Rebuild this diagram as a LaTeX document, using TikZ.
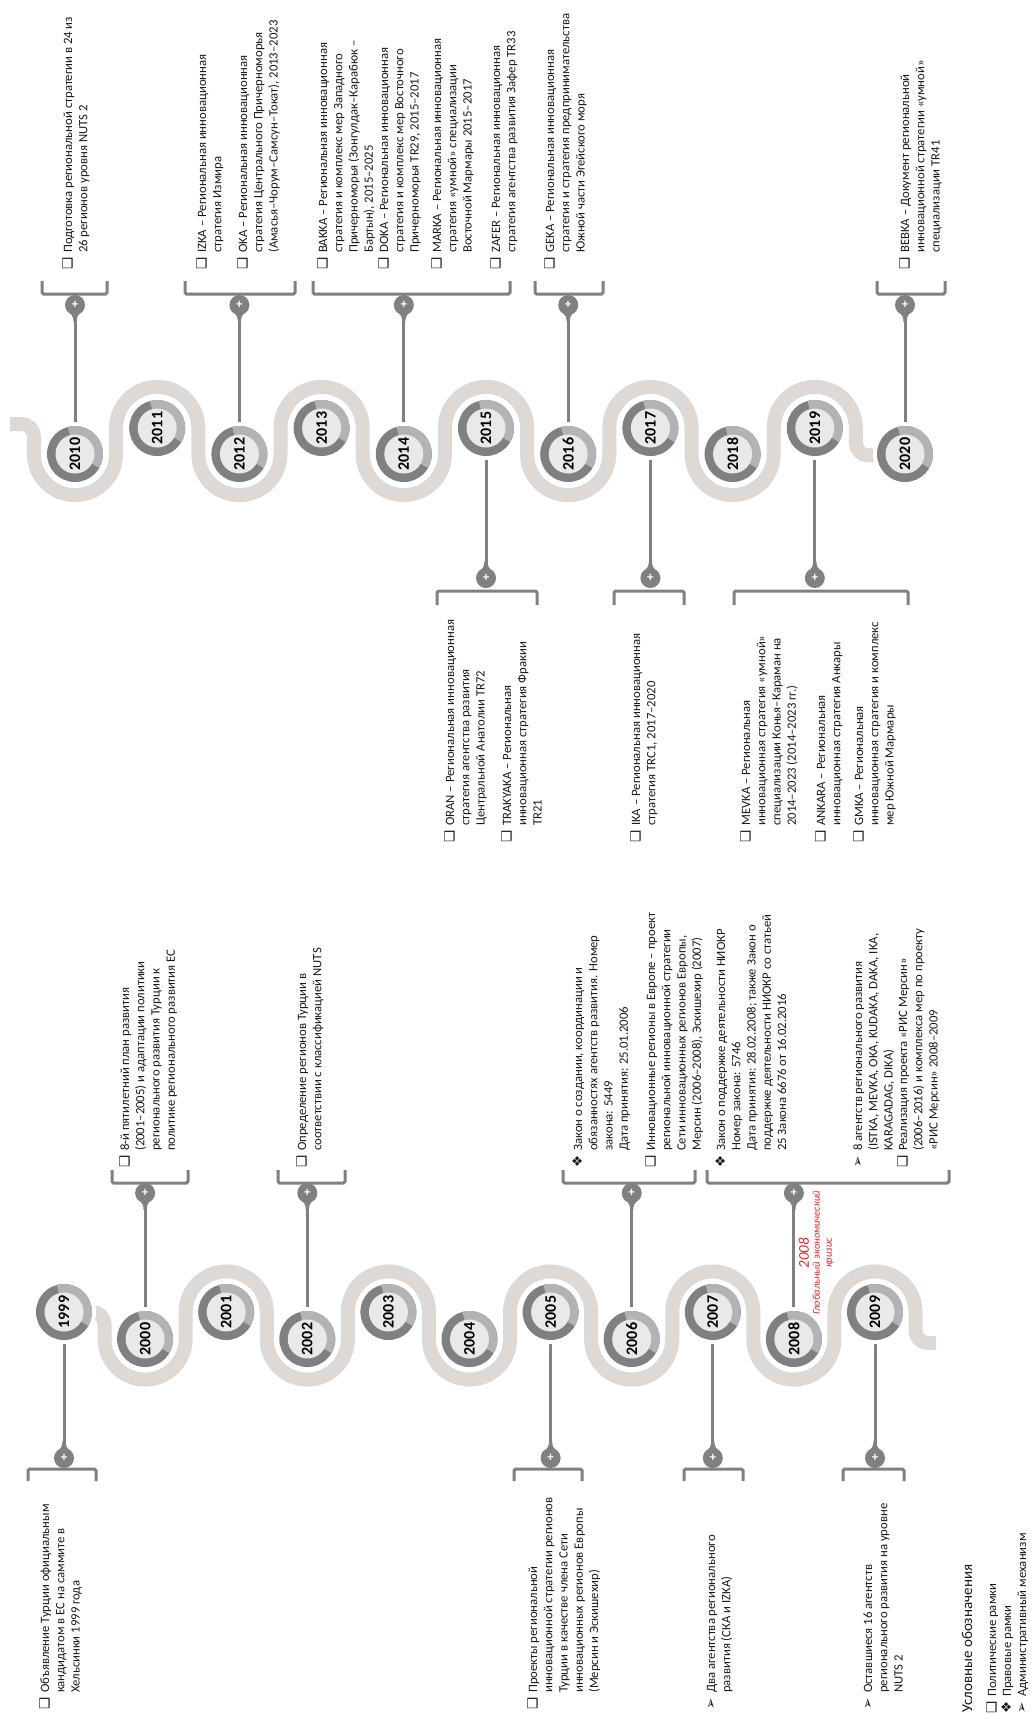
\documentclass[tikz,border=0pt]{standalone}
\usepackage{fontspec}
\setmainfont{Carlito}
\newfontfamily\dvf{DejaVu Sans}
\usetikzlibrary{calc}
\definecolor{bandc}{HTML}{DDD9D7}
\definecolor{dk}{HTML}{808080}
\definecolor{lt}{HTML}{B3B3B3}
\definecolor{inn}{HTML}{E8E9E8}
\definecolor{crisis}{HTML}{E8262D}
\newlength\bulw \setlength\bulw{17pt}
\newcommand\bl[1]{\makebox[\bulw][l]{\dvf\fontsize{13.5}{13.5}\selectfont #1}}
\newcommand\IT[2]{\begin{tabular}[t]{@{}l@{}l@{}}\bl{#1}&#2\end{tabular}}
\def\SQ{❑}\def\DI{❖}\def\AR{➢}
\tikzset{
 txt/.style={rotate=90, anchor=base west, inner sep=0pt, text=black!90, font=\fontsize{12.7}{15.3}\selectfont},
 stem/.style={draw=dk, line width=3pt},
 brk/.style={draw=dk, line width=3pt, rounded corners=1.5pt},
 mk/.style={circle, fill=dk, minimum size=20pt, inner sep=0pt, text=white, font=\bfseries\fontsize{13}{13}\selectfont},
 yr/.style={rotate=90, font=\bfseries\fontsize{16}{16}\selectfont, inner sep=0pt},
 bandline/.style={draw=bandc, line width=14pt},
}
\newcommand\yearc[3]{%
 \fill[white] (#1,#2) circle (32);
 \fill[dk] (#1,#2) circle (28);
 \fill[lt] (#1,#2) -- ++(-105:28) arc(-105:30:28) -- cycle;
 \fill[inn] (#1,#2) circle (19.5);
 \node[yr] (y#3) at (#1,#2) {#3};
}
\newcommand\marker[4]{%
 \fill[dk] ({#2-8.5},{#3+(#4)*5}) .. controls ({#2-3},{#3+(#4)*9}) and ({#2-1.5},{#3+(#4)*12}) .. ({#2-1.5},{#3+(#4)*17}) -- ({#2+1.5},{#3+(#4)*17}) .. controls ({#2+1.5},{#3+(#4)*12}) and ({#2+3},{#3+(#4)*9}) .. ({#2+8.5},{#3+(#4)*5}) -- cycle;
 \node[mk] (#1) at (#2,#3) {+};
}
\begin{document}
\begin{tikzpicture}[x=1pt,y=-1pt]
\fill[white] (0,0) rectangle (1032,1719);
\useasboundingbox (0,0) rectangle (1032,1719);

% ---------- timeline 1 band ----------
\draw[bandline] (86,1312) -- (92.15,1312) arc(270:360:12.4) -- (104.55,1339) arc(180:0:40.55)
 -- (185.65,1312) arc(180:360:40.55) -- (266.75,1339) arc(180:0:40.55)
 -- (347.85,1312) arc(180:360:40.55) -- (428.95,1339) arc(180:0:40.55)
 -- (510.05,1312) arc(180:360:40.55) -- (591.15,1339) arc(180:0:40.55)
 -- (672.25,1312) arc(180:360:40.55) -- (753.35,1339) arc(180:0:40.55)
 -- (834.45,1312) arc(180:360:40.55) -- (915.55,1330.6) arc(180:90:12.4) -- (936,1343);

% ---------- timeline 2 band ----------
\draw[bandline] (10,424) -- (21.5,424) arc(270:360:12.4) -- (33.9,454) arc(180:0:41.1)
 -- (116.1,428) arc(180:360:41.1) -- (198.3,454) arc(180:0:41.1)
 -- (280.5,428) arc(180:360:41.1) -- (362.7,454) arc(180:0:41.1)
 -- (444.9,428) arc(180:360:41.1) -- (527.1,454) arc(180:0:41.1)
 -- (609.3,428) arc(180:360:41.1) -- (691.5,454) arc(180:0:41.1)
 -- (773.7,428) arc(180:360:41.1) -- (855.9,443) arc(180:90:12.4) -- (895,455.4);

% ---------- coordinates ----------
\coordinate (c1999) at (64,1312);
\coordinate (c2000) at (145.1,1339);
\coordinate (c2002) at (307.3,1339);
\coordinate (c2005) at (550.6,1312);
\coordinate (c2006) at (631.7,1339);
\coordinate (c2007) at (712.8,1312);
\coordinate (c2008) at (793.9,1339);
\coordinate (c2009) at (875,1312);
\coordinate (p1999) at (64,1458);
\coordinate (p2000) at (145.1,1193);
\coordinate (p2002) at (307.3,1193);
\coordinate (p2005) at (550.6,1458);
\coordinate (p2006) at (631.7,1193);
\coordinate (p2007) at (712.8,1458);
\coordinate (p2008) at (793.9,1193);
\coordinate (p2009) at (875,1458);

\coordinate (c2010) at (75,454);
\coordinate (c2012) at (239.4,454);
\coordinate (c2014) at (403.8,454);
\coordinate (c2015) at (486,428);
\coordinate (c2016) at (568.2,454);
\coordinate (c2017) at (650.4,428);
\coordinate (c2019) at (814.8,428);
\coordinate (c2020) at (905,454);
\coordinate (p2010) at (75,305);
\coordinate (p2012) at (239.4,305);
\coordinate (p2014) at (403.8,305);
\coordinate (p2016) at (568.2,305);
\coordinate (p2020) at (905,305);
\coordinate (p2015) at (486,578);
\coordinate (p2017) at (650.4,578);
\coordinate (p2019) at (814.8,578);

% ---------- stems ----------
\foreach \k in {1999,2000,2002,2005,2006,2007,2008,2009,2010,2012,2014,2015,2016,2017,2019,2020}
  \draw[stem] (c\k) -- (p\k);

% ---------- year circles ----------
\yearc{64}{1312}{1999}
\yearc{145.1}{1339}{2000}
\yearc{226.2}{1312}{2001}
\yearc{307.3}{1339}{2002}
\yearc{388.4}{1312}{2003}
\yearc{469.5}{1339}{2004}
\yearc{550.6}{1312}{2005}
\yearc{631.7}{1339}{2006}
\yearc{712.8}{1312}{2007}
\yearc{793.9}{1339}{2008}
\yearc{875}{1312}{2009}

\yearc{75}{454}{2010}
\yearc{157.2}{428}{2011}
\yearc{239.4}{454}{2012}
\yearc{321.6}{428}{2013}
\yearc{403.8}{454}{2014}
\yearc{486}{428}{2015}
\yearc{568.2}{454}{2016}
\yearc{650.4}{428}{2017}
\yearc{732.6}{454}{2018}
\yearc{814.8}{428}{2019}
\yearc{905}{454}{2020}

% ---------- brackets ----------
\draw[brk] (112,1170) -- (112,1183) -- (188,1183) -- (188,1170);
\draw[brk] (278,1170) -- (278,1183) -- (345,1183) -- (345,1170);
\draw[brk] (563,1170) -- (563,1183) -- (695,1183) -- (695,1170);
\draw[brk] (707,1170) -- (707,1183) -- (949,1183) -- (949,1170);
\draw[brk] (28,1481) -- (28,1469) -- (96,1469) -- (96,1481);
\draw[brk] (514,1481) -- (514,1469) -- (582,1469) -- (582,1481);
\draw[brk] (684,1481) -- (684,1469) -- (743,1469) -- (743,1481);
\draw[brk] (843,1481) -- (843,1469) -- (904,1469) -- (904,1481);

\draw[brk] (42,281) -- (42,294) -- (107,294) -- (107,281);
\draw[brk] (185,281) -- (185,294) -- (295,294) -- (295,281);
\draw[brk] (313,281) -- (313,294) -- (510,294) -- (510,281);
\draw[brk] (535,281) -- (535,294) -- (603,294) -- (603,281);
\draw[brk] (877,281) -- (877,294) -- (945,294) -- (945,281);
\draw[brk] (437,605) -- (437,591) -- (537,591) -- (537,605);
\draw[brk] (614,605) -- (614,591) -- (684,591) -- (684,605);
\draw[brk] (734,605) -- (734,591) -- (908,591) -- (908,605);

% ---------- markers ----------
\marker{m2000}{145.1}{1193}{1}
\marker{m2002}{307.3}{1193}{1}
\marker{m2006}{631.7}{1193}{1}
\marker{m2008}{793.9}{1193}{1}
\marker{m1999}{64}{1458}{-1}
\marker{m2005}{550.6}{1458}{-1}
\marker{m2007}{712.8}{1458}{-1}
\marker{m2009}{875}{1458}{-1}
\marker{m2010}{75}{305}{1}
\marker{m2012}{239.4}{305}{1}
\marker{m2014}{403.8}{305}{1}
\marker{m2016}{568.2}{305}{1}
\marker{m2020}{905}{305}{1}
\marker{m2015}{486}{578}{-1}
\marker{m2017}{650.4}{578}{-1}
\marker{m2019}{814.8}{578}{-1}

% ---------- crisis label ----------
\node[rotate=90, text=crisis, align=center, inner sep=0pt] (crisis) at (816,1253)
 {\fontsize{15}{15}\selectfont\itshape 2008\\[-1pt]\fontsize{10.5}{11}\selectfont\itshape Глобальный экономический\\\fontsize{10.5}{11}\selectfont\itshape кризис};

% ---------- texts timeline 1, bottom ----------
\node[txt] (t1999) at (49,1710) {\IT{\SQ}{Объявление Турции официальным\\&кандидатом в ЕС на саммите в\\&Хельсинки 1999 года}};
\node[txt] (t2005) at (537,1710) {\IT{\SQ}{Проекты региональной\\&инновационной стратегии регионов\\&Турции в качестве члена Сети\\&инновационных регионов Европы\\&(Мерсин и Эскишехир)}};
\node[txt] (t2007) at (715,1710) {\IT{\AR}{Два агентства регионального\\&развития (СКА и IZKA)}};
\node[txt] (t2009) at (872,1710) {\IT{\AR}{Оставшиеся 16 агентств\\&регионального развития на уровне\\&NUTS 2}};

% ---------- legend ----------
\node[txt, font=\fontsize{15}{18}\selectfont] (leg) at (972,1713) {Условные обозначения};
\node[txt] (leg1) at (996,1714) {\IT{\SQ}{Политические рамки}};
\node[txt] (leg2) at (1011,1714) {\IT{\DI}{Правовые рамки}};
\node[txt] (leg3) at (1026,1714) {\IT{\AR}{Административный механизм}};

% ---------- texts timeline 1, top ----------
\node[txt] (t2000) at (129,1168) {\IT{\SQ}{8-й пятилетний план развития\\&(2001–2005) и адаптации политики\\&регионального развития Турции к\\&политике регионального развития ЕС}};
\node[txt] (t2002) at (306,1168) {\IT{\SQ}{Определение регионов Турции в\\&соответствии с классификацией NUTS}};
\node[txt] (t2006a) at (582,1168) {\IT{\DI}{Закон о создании, координации и\\&обязанностях агентств развития. Номер\\&закона: 5449\\&Дата принятия: 25.01.2006}};
\node[txt] (t2006b) at (655,1168) {\IT{\SQ}{Инновационные регионы в Европе – проект\\&региональной инновационной стратегии\\&Сети инновационных регионов Европы,\\&Мерсин (2006–2008), Эскишехир (2007)}};
\node[txt] (t2008a) at (725,1168) {\IT{\DI}{Закон о поддержке деятельности НИОКР\\&Номер закона: 5746\\&Дата принятия: 28.02.2008; также Закон о\\&поддержке деятельности НИОКР со статьей\\&25 Закона 6676 от 16.02.2016}};
\node[txt] (t2008b) at (862,1168) {\IT{\AR}{8 агентств регионального развития\\&(ISTKA, MEVKA, OKA, KUDAKA, DAKA, IKA,\\&KARAGADAG, DIKA)}};
\node[txt] (t2008c) at (907,1168) {\IT{\SQ}{Реализация проекта «РИС Мерсин»\\&(2006–2016) и комплекса мер по проекту\\&«РИС Мерсин» 2008–2009}};

% ---------- texts timeline 2, top ----------
\node[txt] (t2010) at (72,270) {\IT{\SQ}{Подготовка региональной стратегии в 24 из\\&26 регионов уровня NUTS 2}};
\node[txt] (tizka) at (206,270) {\IT{\SQ}{IZKA – Региональная инновационная\\&стратегия Измира}};
\node[txt] (toka) at (247,270) {\IT{\SQ}{OKA – Региональная инновационная\\&стратегия Центрального Причерноморья\\&(Амасья–Чорум–Самсун–Токат), 2013–2023}};
\node[txt] (tbakka) at (327,270) {\IT{\SQ}{BAKKA – Региональная инновационная\\&стратегия и комплекс мер Западного\\&Причерноморья (Зонгулдак–Карабюк –\\&Бартын), 2015–2025}};
\node[txt] (tdoka) at (388,270) {\IT{\SQ}{DOKA – Региональная инновационная\\&стратегия и комплекс мер Восточного\\&Причерноморья TR29, 2015–2017}};
\node[txt] (tmarka) at (441,270) {\IT{\SQ}{MARKA – Региональная инновационная\\&стратегия «умной» специализации\\&Восточной Мармары 2015–2017}};
\node[txt] (tzafer) at (500,270) {\IT{\SQ}{ZAFER – Региональная инновационная\\&стратегия агентства развития Зафер TR33}};
\node[txt] (tgeka) at (554,270) {\IT{\SQ}{GEKA – Региональная инновационная\\&стратегия и стратегия предпринимательства\\&Южной части Эгейского моря}};
\node[txt] (tbebka) at (909,270) {\IT{\SQ}{BEBKA – Документ региональной\\&инновационной стратегии «умной»\\&специализации TR41}};

% ---------- texts timeline 2, bottom ----------
\node[txt] (toran) at (454,843) {\IT{\SQ}{ORAN – Региональная инновационная\\&стратегия агентства развития\\&Центральной Анатолии TR72}};
\node[txt] (ttrak) at (511,843) {\IT{\SQ}{TRAKYAKA – Региональная\\&инновационная стратегия Фракии\\&TR21}};
\node[txt] (tika) at (640,843) {\IT{\SQ}{IKA – Региональная инновационная\\&стратегия TRC1, 2017–2020}};
\node[txt] (tmevka) at (750,843) {\IT{\SQ}{MEVKA – Региональная\\&инновационная стратегия «умной»\\&специализации Конья–Караман на\\&2014–2023 (2014–2023 гг.)}};
\node[txt] (tankara) at (825,843) {\IT{\SQ}{ANKARA – Региональная\\&инновационная стратегия Анкары}};
\node[txt] (tgmka) at (863,843) {\IT{\SQ}{GMKA – Региональная\\&инновационная стратегия и комплекс\\&мер Южной Мармары}};
\end{tikzpicture}
\end{document}
